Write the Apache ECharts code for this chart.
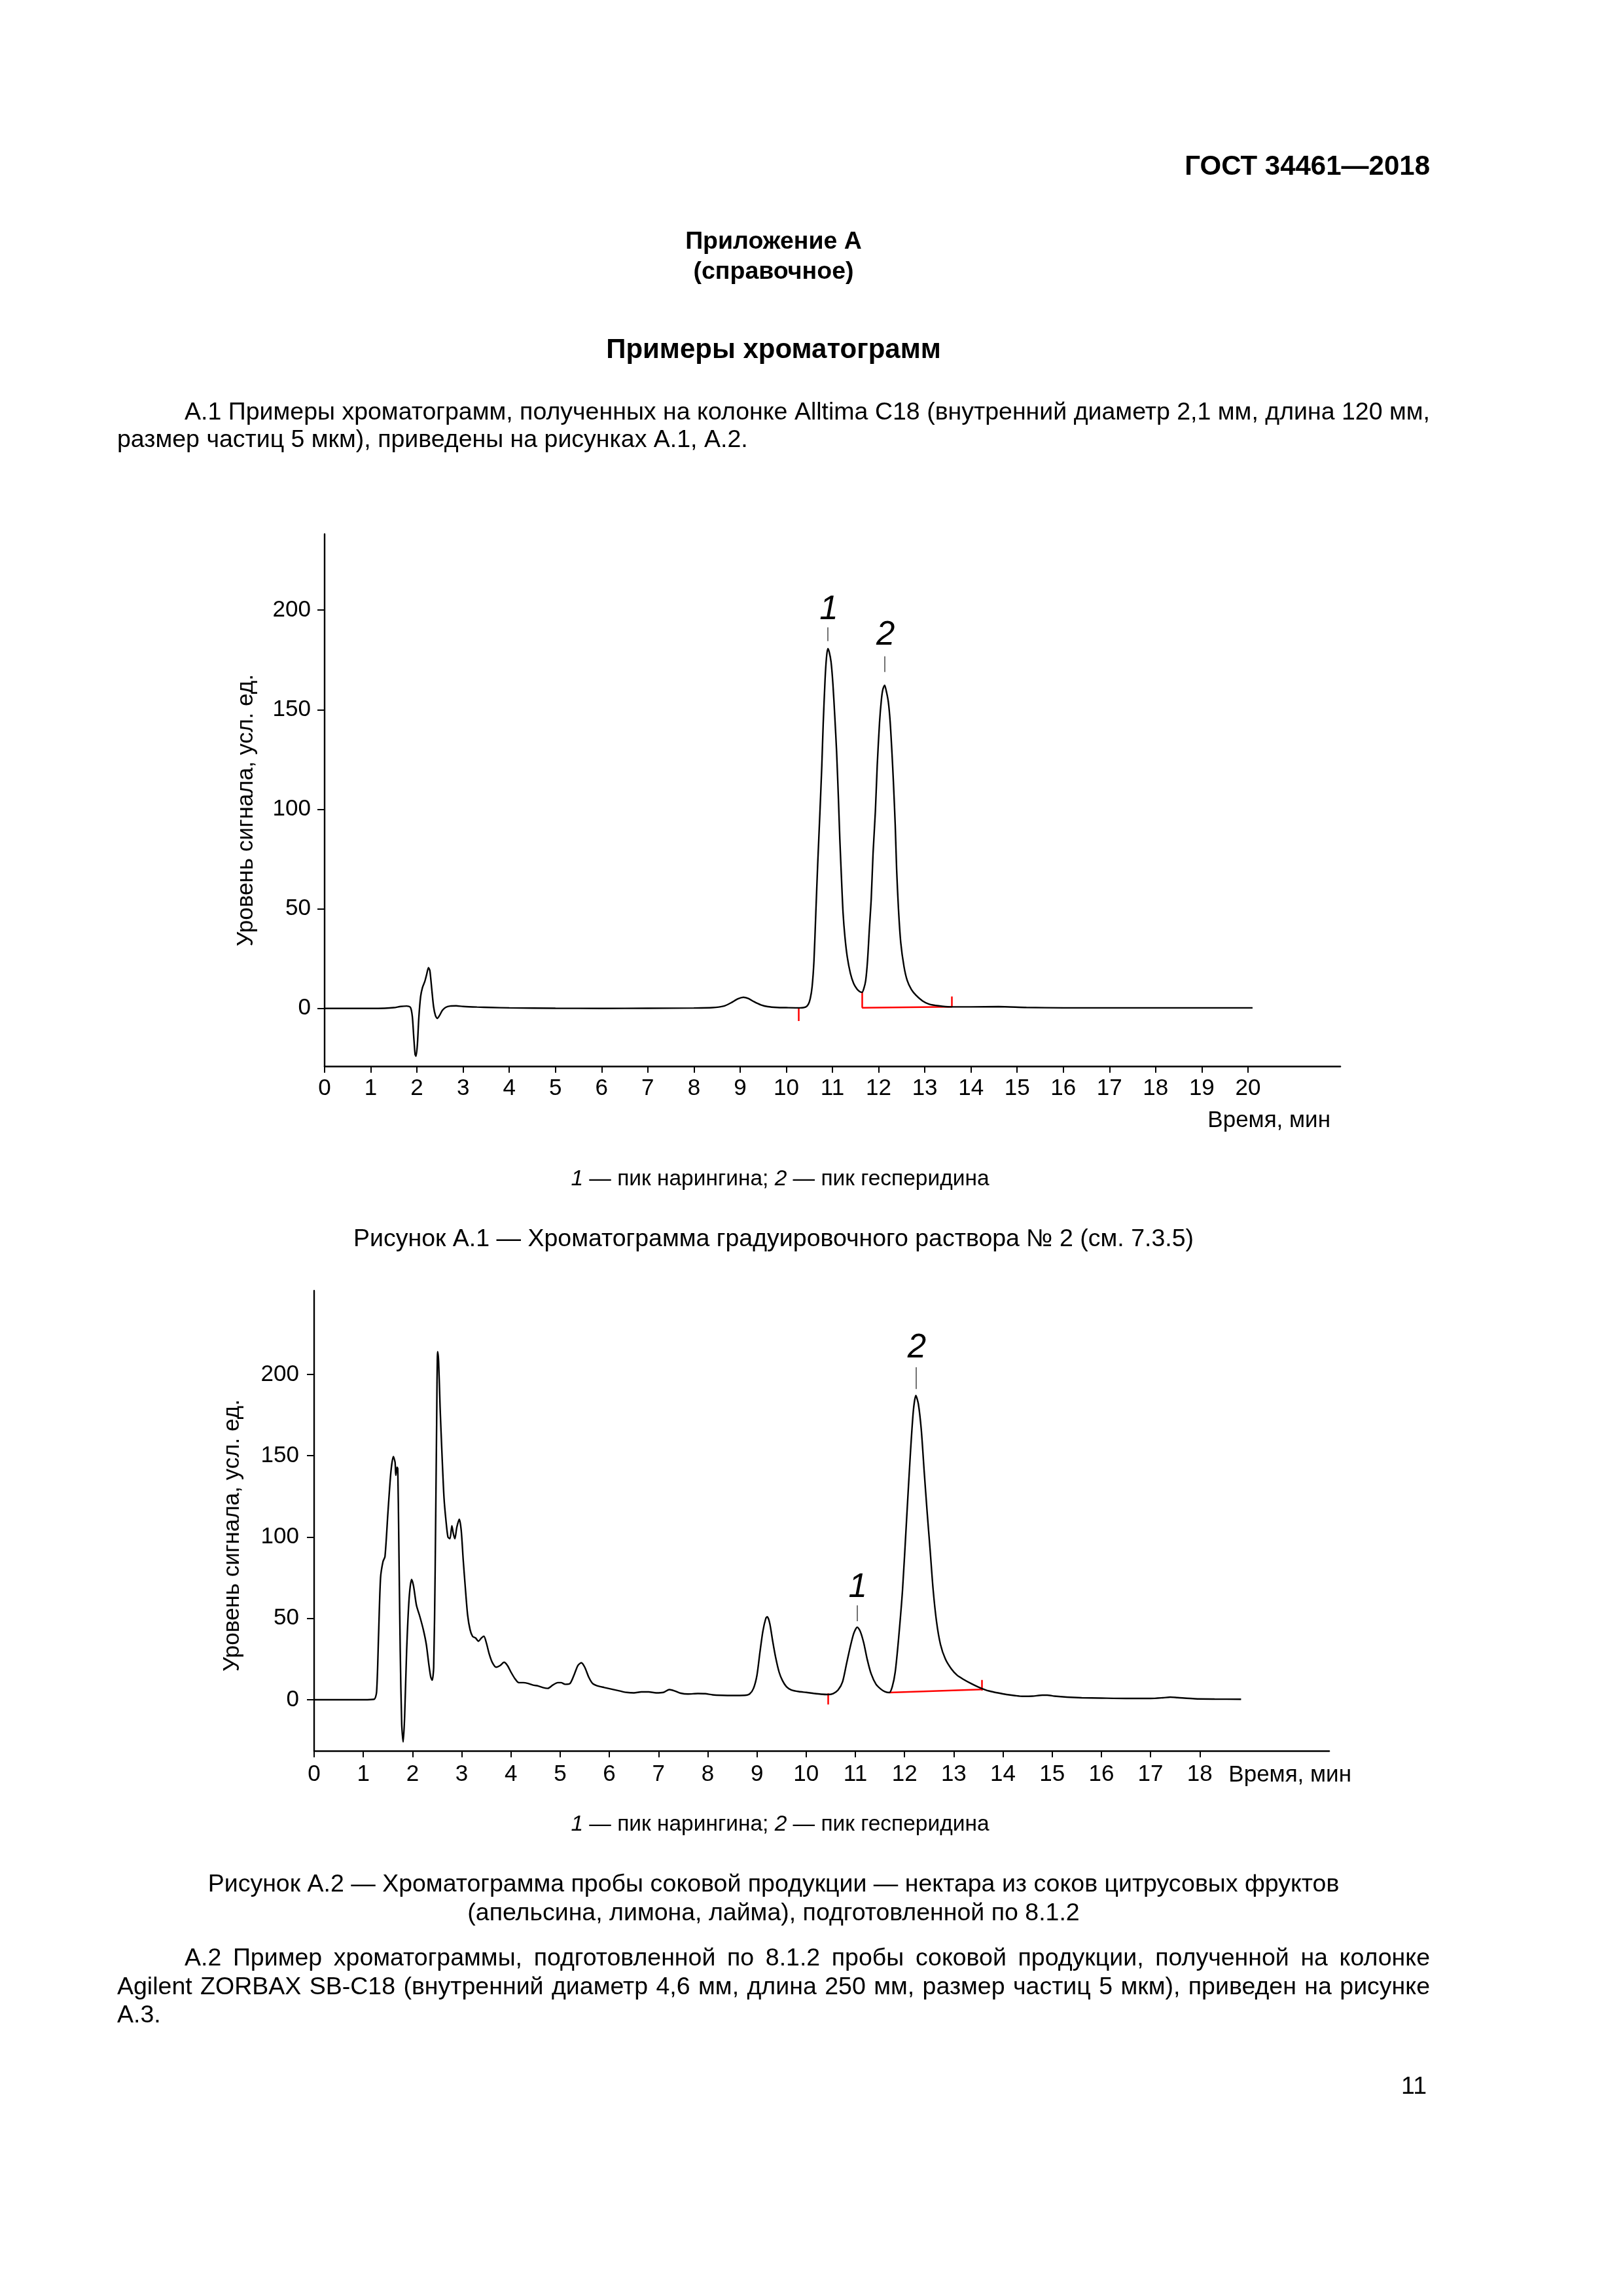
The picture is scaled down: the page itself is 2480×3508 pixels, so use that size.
<!DOCTYPE html>
<html>
<head>
<meta charset="utf-8">
<script src="https://cdn.jsdelivr.net/npm/echarts@6/dist/echarts.min.js"></script>
<style>
html,body{margin:0;padding:0;background:#fff;}
#page{width:2480px;height:3508px;}
</style>
</head>
<body>
<div id="page"></div>
<script>
// ---------- DATA ----------
// Figure A.1: [time, signal]
const chart1Data = [
 [0,0],[0.5,0],[1.0,0],[1.3,0.1],[1.5,0.4],[1.65,1.0],[1.78,1.2],[1.86,0.5],[1.9,-4],[1.93,-14],
 [1.96,-23],[1.98,-24],[2.01,-18],[2.04,-5],[2.08,6],[2.12,10.5],[2.17,13.5],[2.21,17],[2.25,20.5],
 [2.28,19],[2.32,10],[2.36,1],[2.40,-3.5],[2.44,-5],[2.49,-3.5],[2.55,-1],[2.62,0.5],[2.72,1.2],
 [2.85,1.3],[3.0,1.0],[3.3,0.7],[3.6,0.5],[4.0,0.3],[5.0,0.1],[6.0,0],[7.0,0.1],[8.0,0.2],[8.4,0.4],
 [8.65,1.2],[8.8,2.8],[8.95,4.8],[9.07,5.6],[9.18,5.0],[9.3,3.4],[9.45,1.8],[9.6,0.9],[9.8,0.5],
 [10.0,0.4],[10.3,0.3],[10.42,0.7],[10.48,2.2],[10.52,5],[10.56,11],[10.60,24],[10.64,48],[10.68,72],
 [10.73,99],[10.77,122],[10.80,143],[10.84,165],[10.87,176],[10.90,180.7],[10.93,179],[10.97,174],
 [11.01,163],[11.05,147],[11.09,129],[11.13,105],[11.16,85],[11.20,63],[11.23,48],[11.27,36],
 [11.32,26],[11.39,17.5],[11.46,12.5],[11.53,9.8],[11.59,8.5],[11.64,8.1],[11.68,10],[11.72,14],
 [11.76,24],[11.80,40],[11.84,55],[11.88,78],[11.93,99],[11.97,122],[12.02,143.6],[12.06,155],
 [12.09,160],[12.13,162.3],[12.17,159],[12.21,154],[12.25,144],[12.29,128],[12.32,114],[12.36,92],
 [12.39,70],[12.43,50],[12.48,33],[12.55,21],[12.62,14],[12.71,9.5],[12.81,6.6],[12.95,3.8],
 [13.09,2.2],[13.3,1.3],[13.55,0.8],[14.0,0.8],[14.6,0.9],[15.2,0.5],[16.0,0.3],[17.0,0.3],
 [18.0,0.3],[19.0,0.3],[20.1,0.3]
];
// Figure A.2: [time, signal]
const chart2Data = [
 [0,0],[0.5,0],[1.0,0],[1.22,0.3],[1.27,5],[1.31,40],[1.35,75],[1.40,85],[1.44,88],[1.50,115],
 [1.56,140],[1.61,149.5],[1.645,146],[1.66,138],[1.685,143],[1.70,142],[1.72,100],[1.75,30],
 [1.78,-15],[1.81,-26],[1.84,-10],[1.88,30],[1.93,62],[1.98,74],[2.02,70],[2.08,58],[2.15,51],
 [2.22,43],[2.28,34],[2.33,22],[2.37,14],[2.40,12],[2.43,20],[2.46,80],[2.49,170],[2.51,214],
 [2.53,208],[2.56,180],[2.60,150],[2.64,124],[2.68,110],[2.72,100],[2.76,99],[2.80,107],[2.83,102],
 [2.86,99],[2.90,106],[2.95,111],[2.99,104],[3.03,86],[3.07,70],[3.12,52],[3.17,43],[3.22,39],
 [3.28,38],[3.34,36],[3.40,38],[3.45,39],[3.50,35],[3.56,28],[3.62,23],[3.70,20],[3.78,21],
 [3.86,23],[3.93,21],[4.00,17],[4.08,13],[4.16,10.5],[4.25,10.5],[4.35,10],[4.45,9],[4.55,8.5],
 [4.65,7.5],[4.75,7],[4.85,9],[4.95,10.5],[5.02,10.5],[5.1,9.5],[5.2,10],[5.28,15],[5.36,21],
 [5.43,22.7],[5.5,20],[5.58,14],[5.66,10],[5.76,8.5],[5.9,7.5],[6.05,6.5],[6.2,5.5],[6.35,4.5],
 [6.5,4.2],[6.65,4.8],[6.8,4.8],[6.95,4.2],[7.1,4.5],[7.22,6.2],[7.32,5.5],[7.45,4],[7.6,3.5],
 [7.8,3.8],[7.95,3.7],[8.1,3],[8.3,2.7],[8.5,2.6],[8.75,2.7],[8.85,3.5],[8.93,7],[9.0,15],
 [9.06,29],[9.12,42],[9.18,50],[9.21,51],[9.26,47],[9.32,36],[9.38,26],[9.45,17],[9.52,11.7],
 [9.6,8],[9.7,6],[9.85,5],[10.0,4.5],[10.15,3.9],[10.3,3.4],[10.44,3.2],[10.55,3.8],[10.65,6],
 [10.74,11],[10.82,22],[10.9,33],[10.97,41],[11.04,44.6],[11.1,42],[11.17,35],[11.24,25],
 [11.32,16],[11.42,9.5],[11.52,6.5],[11.6,5],[11.69,4.4],[11.75,8],[11.81,17],[11.88,38],
 [11.96,68],[12.04,110],[12.12,152],[12.18,178],[12.23,187],[12.28,182],[12.34,166],[12.4,140],
 [12.46,115],[12.52,92],[12.58,68],[12.65,48],[12.73,34],[12.83,25],[12.95,19],[13.07,15],
 [13.2,12.5],[13.35,10],[13.5,7.8],[13.65,6],[13.8,4.8],[13.95,3.9],[14.1,3.1],[14.25,2.5],
 [14.4,2.1],[14.6,2.2],[14.8,2.8],[14.9,2.8],[15.05,2.2],[15.3,1.6],[15.6,1.2],[16.0,1],
 [16.5,0.8],[17.0,0.8],[17.25,1.2],[17.4,1.6],[17.55,1.3],[17.9,0.6],[18.3,0.4],[18.84,0.3]
];
// integration marks (red) : segments [[t,y],[t,y]]
const red1 = [
 [[10.26,0.5],[10.26,-6.3]],
 [[11.64,8.1],[11.64,0.3]],
 [[11.64,0.3],[13.59,0.8]],
 [[13.59,0.8],[13.59,6.0]]
];
const red2 = [
 [[10.44,3.9],[10.44,-2.9]],
 [[11.69,4.4],[13.57,6.3]],
 [[13.57,5.6],[13.57,12.2]]
];
// peak labels [t, y, text] and leader lines [t, yFrom, yTo]
const peakLabels1 = [[10.92,200.3,'1'],[12.15,187.2,'2']];
const leaders1 = [[10.90,184.5,191.4],[12.13,168.9,176.8]];
const peakLabels2 = [[11.05,69,'1'],[12.25,216,'2']];
const leaders2 = [[11.04,48.3,58],[12.24,191,204.4]];
// axis ticks
const xTicks1 = [0,1,2,3,4,5,6,7,8,9,10,11,12,13,14,15,16,17,18,19,20];
const xTicks2 = [0,1,2,3,4,5,6,7,8,9,10,11,12,13,14,15,16,17,18];
const yTicks = [0,50,100,150,200];
const xRange1 = [0,22], yRange1 = [-29,238.2];
const xRange2 = [0,20.63], yRange2 = [-31.4,251.5];

// ---------- TEXTS ----------
const FONT = '"Liberation Sans", Arial, sans-serif';
const headerText = 'ГОСТ 34461—2018';
const annexTitle = 'Приложение А';
const annexSub = '(справочное)';
const sectionTitle = 'Примеры хроматограмм';
const para1 = ['А.1 Примеры хроматограмм, полученных на колонке Alltima C18 (внутренний диаметр 2,1 мм, длина 120 мм,',
               'размер частиц 5 мкм), приведены на рисунках А.1, А.2.'];
const legendRich = '{i|1} — пик нарингина; {i|2} — пик гесперидина';
const caption1 = 'Рисунок А.1 — Хроматограмма градуировочного раствора № 2 (см. 7.3.5)';
const caption2 = ['Рисунок А.2 — Хроматограмма пробы соковой продукции — нектара из соков цитрусовых фруктов',
                  '(апельсина, лимона, лайма), подготовленной по 8.1.2'];
const para2 = ['А.2 Пример хроматограммы, подготовленной по 8.1.2 пробы соковой продукции, полученной на колонке',
               'Agilent ZORBAX SB-C18 (внутренний диаметр 4,6 мм, длина 250 мм, размер частиц 5 мкм), приведен на рисунке',
               'А.3.'];
const yName = 'Уровень сигнала, усл. ед.';
const xName = 'Время, мин';
const pageNo = '11';

// ---------- HELPERS ----------
const measureCtx = document.createElement('canvas').getContext('2d');
function txt(text, x, y, size, opts) {
  opts = opts || {};
  return {
    type: 'text', x: x, y: y, rotation: opts.rotation || 0, silent: true,
    style: {
      text: text, fill: '#000', fontSize: size, fontFamily: FONT,
      fontWeight: opts.bold ? 'bold' : 'normal', fontStyle: opts.italic ? 'italic' : 'normal',
      textAlign: opts.align || 'left', textVerticalAlign: 'middle', rich: opts.rich
    }
  };
}
function justify(text, x0, x1, y, size) {
  measureCtx.font = size + 'px ' + FONT;
  const words = text.split(' ');
  const w = words.map(s => measureCtx.measureText(s).width);
  const total = w.reduce((a, b) => a + b, 0);
  const gap = (x1 - x0 - total) / (words.length - 1);
  const out = [];
  let x = x0;
  words.forEach((s, i) => { out.push(txt(s, x, y, size)); x += w[i] + gap; });
  return out;
}
function segData(segs) { return segs.map(s => ({ coords: s })); }
function leaderData(arr) { return arr.map(l => [{ coord: [l[0], l[1]] }, { coord: [l[0], l[2]] }]); }

function axisX(grid, range, ticks, margin) {
  return {
    gridIndex: grid, type: 'value', min: range[0], max: range[1],
    axisLine: { show: true, onZero: false, lineStyle: { color: '#000', width: 2.6 } },
    axisTick: { show: true, customValues: ticks, length: 10, lineStyle: { color: '#000', width: 2 } },
    axisLabel: { show: true, customValues: ticks, color: '#000', fontSize: 35, fontFamily: FONT, margin: margin },
    splitLine: { show: false }
  };
}
function axisY(grid, range, margin) {
  return {
    gridIndex: grid, type: 'value', min: range[0], max: range[1],
    axisLine: { show: true, onZero: false, lineStyle: { color: '#000', width: 2.4 } },
    axisTick: { show: true, customValues: yTicks, length: 11, lineStyle: { color: '#000', width: 2 } },
    axisLabel: { show: true, customValues: yTicks, color: '#000', fontSize: 35, fontFamily: FONT, margin: margin },
    splitLine: { show: false }
  };
}
function curve(idx, data, leaders) {
  return {
    type: 'line', xAxisIndex: idx, yAxisIndex: idx, data: data, showSymbol: false, smooth: 0.25,
    lineStyle: { color: '#000', width: 2.4 }, silent: true,
    markLine: {
      silent: true, symbol: ['none', 'none'], label: { show: false },
      lineStyle: { color: '#444', width: 1.5, type: 'solid' },
      data: leaderData(leaders)
    }
  };
}
function redMarks(idx, segs) {
  return {
    type: 'lines', coordinateSystem: 'cartesian2d', xAxisIndex: idx, yAxisIndex: idx, silent: true,
    lineStyle: { color: '#ff0000', width: 2.5, opacity: 1 }, data: segData(segs), z: 3
  };
}
function peakText(idx, labels) {
  return {
    type: 'scatter', xAxisIndex: idx, yAxisIndex: idx, symbolSize: 1, silent: true, z: 5,
    itemStyle: { color: 'rgba(255,255,255,0)', opacity: 1 },
    data: labels,
    label: { show: true, position: 'inside', formatter: p => p.value[2], color: '#000', opacity: 1,
             textBorderWidth: 0, textShadowBlur: 0,
             fontSize: 51, fontStyle: 'italic', fontWeight: 'normal', fontFamily: FONT }
  };
}

// ---------- GRAPHIC TEXT ----------
const BODY = 37.5;
let graphics = [];
graphics.push(txt(headerText, 2185, 255, 42, { bold: true, align: 'right' }));
graphics.push(txt(annexTitle, 1182, 370, 37.5, { bold: true, align: 'center' }));
graphics.push(txt(annexSub, 1182, 416, 37.5, { bold: true, align: 'center' }));
graphics.push(txt(sectionTitle, 1182, 535, 42, { bold: true, align: 'center' }));
graphics = graphics.concat(justify(para1[0], 282, 2185, 631, BODY));
graphics.push(txt(para1[1], 179, 673, BODY));
graphics.push(txt(yName, 376, 1238, 35, { align: 'center', rotation: Math.PI / 2 }));
graphics.push(txt(xName, 2033, 1712, 35, { align: 'right' }));
const richItal = { i: { fontStyle: 'italic', fontSize: 33.5, fontFamily: FONT, fill: '#000' } };
graphics.push(txt(legendRich, 1192, 1802, 33.5, { align: 'center', rich: richItal }));
graphics.push(txt(caption1, 1182, 1894, BODY, { align: 'center' }));
graphics.push(txt(yName, 355, 2346, 35, { align: 'center', rotation: Math.PI / 2 }));
graphics.push(txt(xName, 2065, 2712, 35, { align: 'right' }));
graphics.push(txt(legendRich, 1192, 2788, 33.5, { align: 'center', rich: richItal }));
graphics.push(txt(caption2[0], 1182, 2880, BODY, { align: 'center' }));
graphics.push(txt(caption2[1], 1182, 2924, BODY, { align: 'center' }));
graphics = graphics.concat(justify(para2[0], 282, 2185, 2993, BODY));
graphics = graphics.concat(justify(para2[1], 179, 2185, 3037, BODY));
graphics.push(txt(para2[2], 179, 3080, BODY));
graphics.push(txt(pageNo, 2180, 3189, BODY, { align: 'right' }));

// ---------- CHART ----------
const chart = echarts.init(document.getElementById('page'), null, { renderer: 'canvas', width: 2480, height: 3508 });
chart.setOption({
  backgroundColor: '#fff',
  animation: false,
  grid: [
    { left: 496, top: 816, width: 1552, height: 813, outerBoundsMode: 'none' },
    { left: 480, top: 1972, width: 1551, height: 703, outerBoundsMode: 'none' }
  ],
  xAxis: [axisX(0, xRange1, xTicks1, 17), axisX(1, xRange2, xTicks2, 19)],
  yAxis: [axisY(0, yRange1, 21), axisY(1, yRange2, 23)],
  series: [
    curve(0, chart1Data, leaders1), redMarks(0, red1), peakText(0, peakLabels1),
    curve(1, chart2Data, leaders2), redMarks(1, red2), peakText(1, peakLabels2)
  ],
  graphic: graphics
});
</script>
</body>
</html>
